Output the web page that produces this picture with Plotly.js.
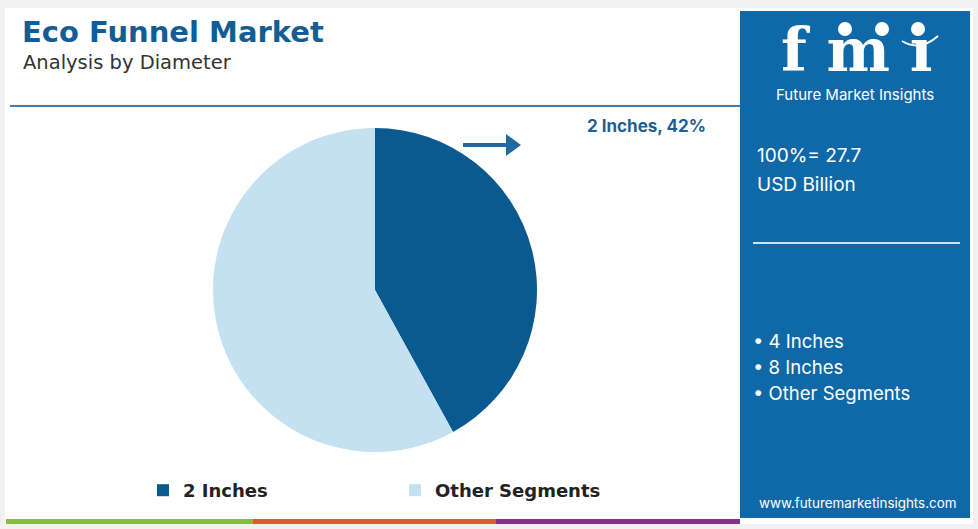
<!DOCTYPE html>
<html>
<head>
<meta charset="utf-8">
<script src="https://cdn.plot.ly/plotly-3.0.1.min.js"></script>
<style>
html,body{margin:0;padding:0;background:#f1f1f1;}
#chart{width:978px;height:529px;}
</style>
</head>
<body>
<div id="chart"></div>
<script>
// Data
var segments = ["2 Inches", "Other Segments"];
var shares = [42, 58];
var sliceColors = ["#0a5a91", "#c4e0f1"];
var titleText = "Eco Funnel Market";
var subtitleText = "Analysis by Diameter";
var calloutText = "2 Inches, 42%";
var totalLines = ["100%= 27.7", "USD Billion"];
var otherSegments = ["4 Inches", "8 Inches", "Other Segments"];
var siteText = "www.futuremarketinsights.com";
var logoText = "f\u2004m\u2004\u0131";
var logoCaption = "Future Market Insights";

var W = 978, H = 529;
function px(x){return x / W;}
function py(y){return 1 - y / H;}

var FONT = "Inter, 'Open Sans', sans-serif";
var WIDE = "'DejaVu Sans', sans-serif";
var PANEL = "#0f69a8";

var trace = {
  type: "pie",
  labels: segments,
  values: shares,
  marker: {colors: sliceColors, line: {width: 0}},
  sort: false,
  direction: "clockwise",
  rotation: 0,
  textinfo: "none",
  hoverinfo: "label+percent",
  domain: {x: [px(213), px(537)], y: [py(452), py(128)]},
  showlegend: true
};

var shapes = [
  {type:"rect", xref:"paper", yref:"paper", x0:px(5), x1:px(973), y0:py(524), y1:py(8), fillcolor:"#ffffff", line:{width:0}, layer:"below"},
  {type:"rect", xref:"paper", yref:"paper", x0:px(740), x1:px(970), y0:py(518), y1:py(11), fillcolor:PANEL, line:{width:0}, layer:"below"},
  {type:"line", xref:"paper", yref:"paper", x0:px(10), x1:px(740), y0:py(106), y1:py(106), line:{color:"#3d7fb3", width:2}},
  {type:"line", xref:"paper", yref:"paper", x0:px(753), x1:px(960), y0:py(243), y1:py(243), line:{color:"#cfe3f3", width:2}},
  {type:"rect", xref:"paper", yref:"paper", x0:px(6), x1:px(253), y0:py(524), y1:py(519), fillcolor:"#86bb45", line:{width:0}},
  {type:"rect", xref:"paper", yref:"paper", x0:px(253), x1:px(496), y0:py(524), y1:py(519), fillcolor:"#df5a2c", line:{width:0}},
  {type:"rect", xref:"paper", yref:"paper", x0:px(496), x1:px(740), y0:py(524), y1:py(519), fillcolor:"#8c2d8d", line:{width:0}},
  {type:"line", xref:"paper", yref:"paper", x0:px(463), x1:px(508), y0:py(145), y1:py(145), line:{color:"#1d6aa5", width:4}},
  {type:"path", xref:"paper", yref:"paper", path:"M "+px(506)+" "+py(134)+" L "+px(521)+" "+py(145)+" L "+px(506)+" "+py(156)+" Z", fillcolor:"#1d6aa5", line:{width:0}},
  {type:"circle", xref:"paper", yref:"paper", x0:px(838), x1:px(852), y0:py(36), y1:py(22), fillcolor:"#ffffff", line:{width:0}},
  {type:"circle", xref:"paper", yref:"paper", x0:px(875), x1:px(889), y0:py(36), y1:py(22), fillcolor:"#ffffff", line:{width:0}},
  {type:"circle", xref:"paper", yref:"paper", x0:px(911), x1:px(925), y0:py(36), y1:py(22), fillcolor:"#ffffff", line:{width:0}},
  {type:"path", xref:"paper", yref:"paper", path:"M "+px(902)+" "+py(41)+" Q "+px(920)+" "+py(52)+" "+px(938)+" "+py(36), line:{color:"#ffffff", width:2}}
];

var annotations = [
  {text:"<b>"+titleText+"</b>", x:px(20), y:py(32), xref:"paper", yref:"paper", xanchor:"left", yanchor:"middle", showarrow:false, font:{family:WIDE, size:29, color:"#135d94"}},
  {text:subtitleText, x:px(21), y:py(62), xref:"paper", yref:"paper", xanchor:"left", yanchor:"middle", showarrow:false, font:{family:WIDE, size:19.5, color:"#333333"}},
  {text:"<b>"+calloutText+"</b>", x:px(646), y:py(126), xref:"paper", yref:"paper", xanchor:"center", yanchor:"middle", showarrow:false, font:{family:FONT, size:17, color:"#1d5f93"}},
  {text:totalLines[0], x:px(755), y:py(155), xref:"paper", yref:"paper", xanchor:"left", yanchor:"middle", showarrow:false, font:{family:FONT, size:19, color:"#ffffff"}},
  {text:totalLines[1], x:px(755), y:py(184), xref:"paper", yref:"paper", xanchor:"left", yanchor:"middle", showarrow:false, font:{family:FONT, size:19, color:"#ffffff"}},
  {text:"<b>"+logoText+"</b>", x:px(857), y:py(50), xref:"paper", yref:"paper", xanchor:"center", yanchor:"middle", showarrow:false, font:{family:"'DejaVu Serif', serif", size:60, color:"#ffffff"}},
  {text:logoCaption, x:px(855), y:py(95), xref:"paper", yref:"paper", xanchor:"center", yanchor:"middle", showarrow:false, font:{family:FONT, size:15, color:"#ffffff"}},
  {text:siteText, x:px(857), y:py(503), xref:"paper", yref:"paper", xanchor:"center", yanchor:"middle", showarrow:false, font:{family:FONT, size:13.4, color:"#ffffff"}}
];
otherSegments.forEach(function(s, i){
  annotations.push({text:"• "+s, x:px(751), y:py(341 + i*26), xref:"paper", yref:"paper", xanchor:"left", yanchor:"middle", showarrow:false, font:{family:FONT, size:18.5, color:"#ffffff"}});
});

var layout = {
  width: W, height: H,
  margin: {l:0, r:0, t:0, b:0},
  paper_bgcolor: "#f1f1f1",
  plot_bgcolor: "rgba(0,0,0,0)",
  shapes: shapes,
  annotations: annotations,
  showlegend: true,
  legend: {
    orientation: "h",
    x: px(143), y: py(472), xanchor: "left", yanchor: "top",
    entrywidth: 207, entrywidthmode: "pixels",
    font: {family: WIDE, size: 18, color: "#222222", weight: "bold"},
    bgcolor: "rgba(0,0,0,0)",
    itemclick: false, itemdoubleclick: false
  }
};

Plotly.newPlot("chart", [trace], layout, {displayModeBar: false, staticPlot: true});
</script>
</body>
</html>
